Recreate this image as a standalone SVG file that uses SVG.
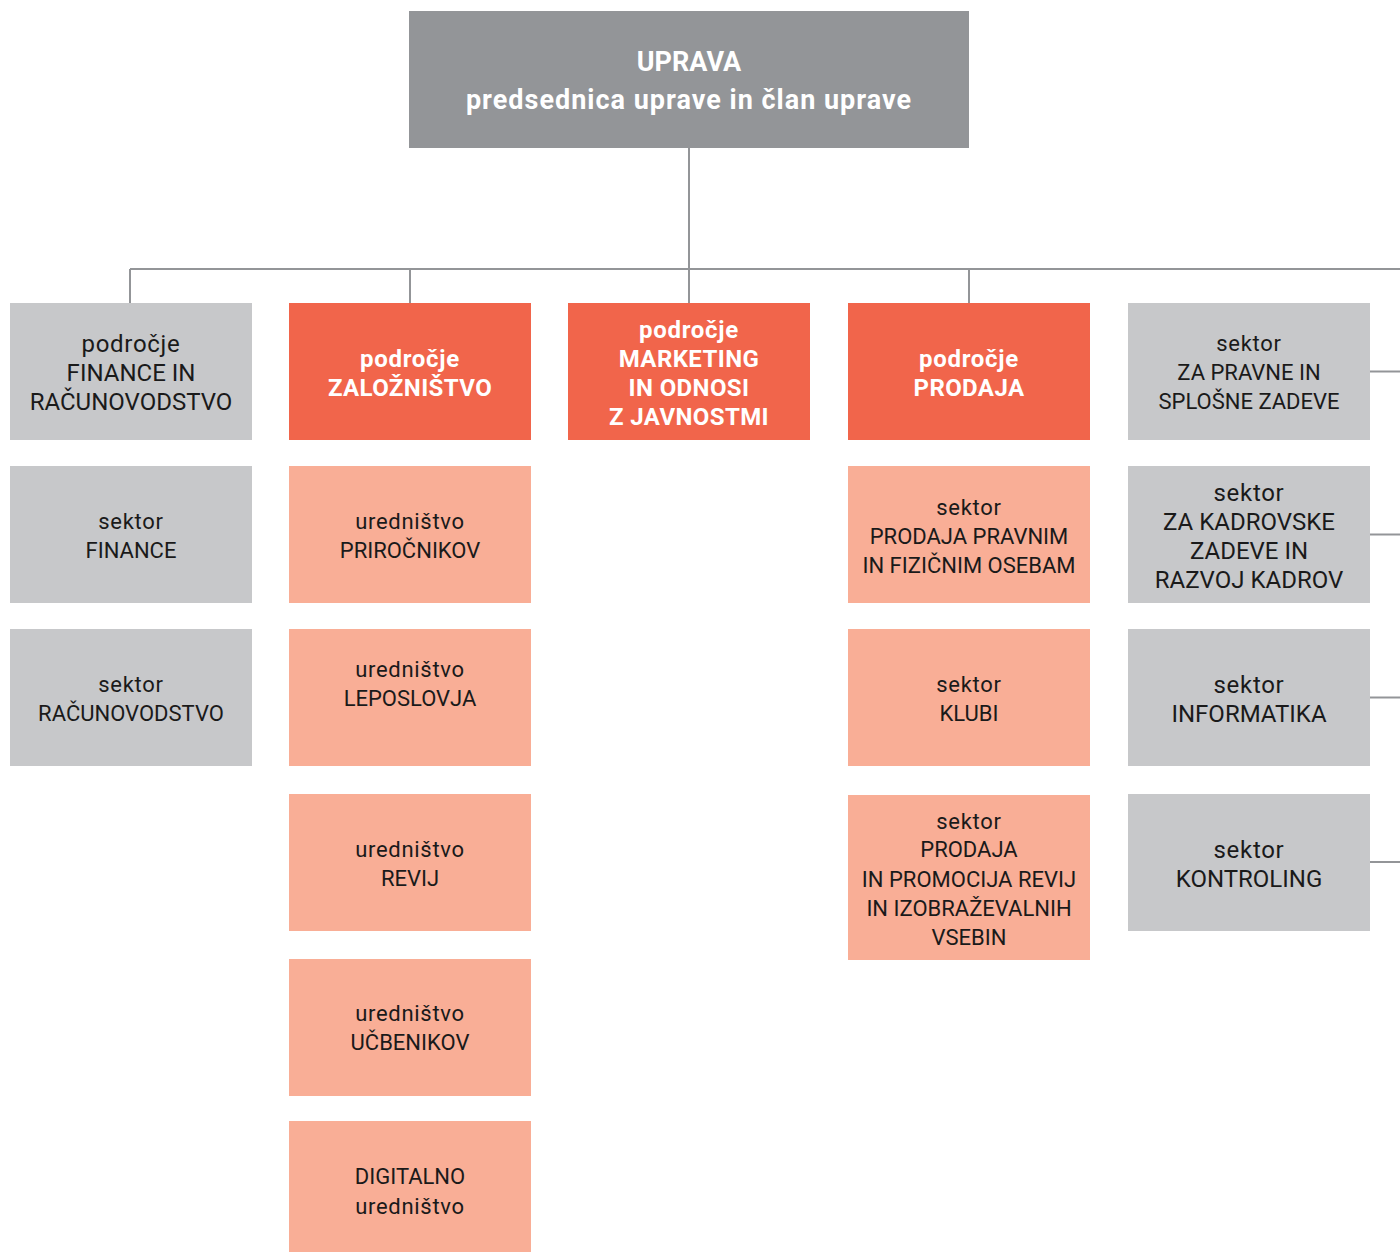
<svg xmlns="http://www.w3.org/2000/svg" width="1400" height="1252" viewBox="0 0 1400 1252">
<style>
text{font-family:Roboto,"Liberation Sans",sans-serif;text-anchor:middle;fill:#1a1a1a}
.top{fill:#939598}
.gray{fill:#c7c8ca}
.org{fill:#f1654b}
.sal{fill:#f9ae96}
.w{fill:#ffffff;font-weight:bold}
.s22{font-size:22px}
.s24{font-size:24px}
.b24{font-size:24px;letter-spacing:0.4px}
.b27{font-size:27px}
.lc{letter-spacing:0.7px}
.conn line{stroke:#939598;stroke-width:2}
</style>
<g id="connectors" class="conn">
<line x1="689" y1="147" x2="689" y2="303"/>
<line x1="130" y1="269" x2="1400" y2="269"/>
<line x1="130" y1="269" x2="130" y2="303"/>
<line x1="410" y1="269" x2="410" y2="303"/>
<line x1="969" y1="269" x2="969" y2="303"/>
<line x1="1370" y1="371.5" x2="1400" y2="371.5"/>
<line x1="1370" y1="534.5" x2="1400" y2="534.5"/>
<line x1="1370" y1="697.5" x2="1400" y2="697.5"/>
<line x1="1370" y1="862" x2="1400" y2="862"/>
</g>
<g id="uprava"><rect class="top" x="409" y="11" width="560" height="137"/>
<text class="w b27" x="689" y="71">UPRAVA</text>
<text class="w b27" x="689" y="109" style="letter-spacing:1px">predsednica uprave in član uprave</text></g>

<g id="podrocje-finance"><rect class="gray" x="10" y="303" width="242" height="137"/>
<text class="s24 lc" x="131" y="352">področje</text>
<text class="s24" x="131" y="381">FINANCE IN</text>
<text class="s24" x="131" y="410">RAČUNOVODSTVO</text></g>
<g id="sektor-finance"><rect class="gray" x="10" y="466" width="242" height="137"/>
<text class="s22 lc" x="131" y="529">sektor</text>
<text class="s22" x="131" y="558">FINANCE</text></g>
<g id="sektor-racunovodstvo"><rect class="gray" x="10" y="629" width="242" height="137"/>
<text class="s22 lc" x="131" y="692">sektor</text>
<text class="s22" x="131" y="721">RAČUNOVODSTVO</text></g>

<g id="podrocje-zaloznistvo"><rect class="org" x="289" y="303" width="242" height="137"/>
<text class="w b24 lc" x="410" y="367">področje</text>
<text class="w b24" x="410" y="396">ZALOŽNIŠTVO</text></g>
<g id="urednistvo-prirocnikov"><rect class="sal" x="289" y="466" width="242" height="137"/>
<text class="s22 lc" x="410" y="529">uredništvo</text>
<text class="s22" x="410" y="558">PRIROČNIKOV</text></g>
<g id="urednistvo-leposlovja"><rect class="sal" x="289" y="629" width="242" height="137"/>
<text class="s22 lc" x="410" y="677">uredništvo</text>
<text class="s22" x="410" y="706">LEPOSLOVJA</text></g>
<g id="urednistvo-revij"><rect class="sal" x="289" y="794" width="242" height="137"/>
<text class="s22 lc" x="410" y="857">uredništvo</text>
<text class="s22" x="410" y="886">REVIJ</text></g>
<g id="urednistvo-ucbenikov"><rect class="sal" x="289" y="959" width="242" height="137"/>
<text class="s22 lc" x="410" y="1021">uredništvo</text>
<text class="s22" x="410" y="1050">UČBENIKOV</text></g>
<g id="digitalno-urednistvo"><rect class="sal" x="289" y="1121" width="242" height="137"/>
<text class="s22" x="410" y="1184">DIGITALNO</text>
<text class="s22 lc" x="410" y="1214">uredništvo</text></g>

<g id="podrocje-marketing"><rect class="org" x="568" y="303" width="242" height="137"/>
<text class="w b24 lc" x="689" y="338">področje</text>
<text class="w b24" x="689" y="367">MARKETING</text>
<text class="w b24" x="689" y="396">IN ODNOSI</text>
<text class="w b24" x="689" y="425">Z JAVNOSTMI</text></g>

<g id="podrocje-prodaja"><rect class="org" x="848" y="303" width="242" height="137"/>
<text class="w b24 lc" x="969" y="367">področje</text>
<text class="w b24" x="969" y="396">PRODAJA</text></g>
<g id="sektor-prodaja-pravnim"><rect class="sal" x="848" y="466" width="242" height="137"/>
<text class="s22 lc" x="969" y="515">sektor</text>
<text class="s22" x="969" y="544">PRODAJA PRAVNIM</text>
<text class="s22" x="969" y="573">IN FIZIČNIM OSEBAM</text></g>
<g id="sektor-klubi"><rect class="sal" x="848" y="629" width="242" height="137"/>
<text class="s22 lc" x="969" y="692">sektor</text>
<text class="s22" x="969" y="721">KLUBI</text></g>
<g id="sektor-prodaja-revij"><rect class="sal" x="848" y="795" width="242" height="165"/>
<text class="s22 lc" x="969" y="829">sektor</text>
<text class="s22" x="969" y="857">PRODAJA</text>
<text class="s22" x="969" y="887">IN PROMOCIJA REVIJ</text>
<text class="s22" x="969" y="916">IN IZOBRAŽEVALNIH</text>
<text class="s22" x="969" y="945">VSEBIN</text></g>

<g id="sektor-pravne"><rect class="gray" x="1128" y="303" width="242" height="137"/>
<text class="s22 lc" x="1249" y="351">sektor</text>
<text class="s22" x="1249" y="380">ZA PRAVNE IN</text>
<text class="s22" x="1249" y="409">SPLOŠNE ZADEVE</text></g>
<g id="sektor-kadrovske"><rect class="gray" x="1128" y="466" width="242" height="137"/>
<text class="s24 lc" x="1249" y="501">sektor</text>
<text class="s24" x="1249" y="530">ZA KADROVSKE</text>
<text class="s24" x="1249" y="559">ZADEVE IN</text>
<text class="s24" x="1249" y="588">RAZVOJ KADROV</text></g>
<g id="sektor-informatika"><rect class="gray" x="1128" y="629" width="242" height="137"/>
<text class="s24 lc" x="1249" y="693">sektor</text>
<text class="s24" x="1249" y="722">INFORMATIKA</text></g>
<g id="sektor-kontroling"><rect class="gray" x="1128" y="794" width="242" height="137"/>
<text class="s24 lc" x="1249" y="858">sektor</text>
<text class="s24" x="1249" y="887">KONTROLING</text></g>
</svg>
